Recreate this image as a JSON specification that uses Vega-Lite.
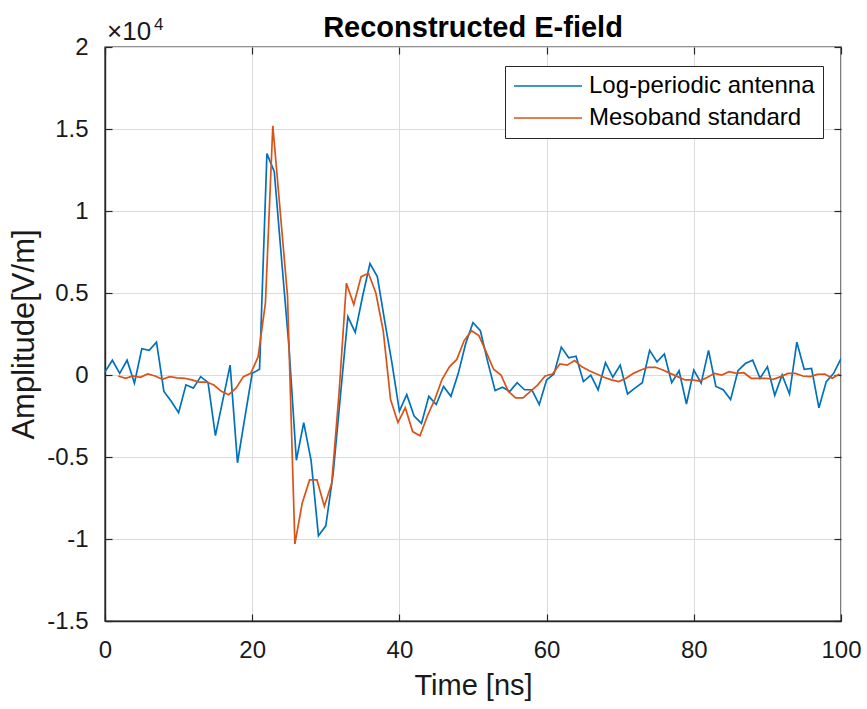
{
  "$schema": "https://vega.github.io/schema/vega-lite/v6.json",
  "width": 736,
  "height": 574,
  "autosize": {"type": "none"},
  "padding": {"left": 105, "top": 47, "right": 26, "bottom": 88},
  "background": "white",
  "title": {"text": "Reconstructed E-field", "fontSize": 29, "fontWeight": "bold", "font": "Liberation Sans", "color": "#000000", "offset": -27, "anchor": "middle"},
  "config": {
    "font": "Liberation Sans",
    "view": {"stroke": "#262626", "strokeWidth": 1.4},
    "axis": {
      "labelFont": "Liberation Sans",
      "titleFont": "Liberation Sans",
      "labelFontSize": 24,
      "titleFontWeight": "normal",
      "labelColor": "#1a1a1a",
      "titleColor": "#1a1a1a",
      "domainColor": "#262626",
      "domainWidth": 1.4,
      "tickColor": "#262626",
      "tickWidth": 1.2,
      "gridColor": "#dcdcdc",
      "gridWidth": 1
    }
  },
  "datasets": {
    "series": [
      {"t": 0, "v": 200, "s": "Log-periodic antenna"},
      {"t": 1, "v": 900, "s": "Log-periodic antenna"},
      {"t": 2, "v": 100, "s": "Log-periodic antenna"},
      {"t": 3, "v": 900, "s": "Log-periodic antenna"},
      {"t": 4, "v": -500, "s": "Log-periodic antenna"},
      {"t": 5, "v": 1600, "s": "Log-periodic antenna"},
      {"t": 6, "v": 1500, "s": "Log-periodic antenna"},
      {"t": 7, "v": 2000, "s": "Log-periodic antenna"},
      {"t": 8, "v": -1000, "s": "Log-periodic antenna"},
      {"t": 9, "v": -1600, "s": "Log-periodic antenna"},
      {"t": 10, "v": -2300, "s": "Log-periodic antenna"},
      {"t": 11, "v": -600, "s": "Log-periodic antenna"},
      {"t": 12, "v": -800, "s": "Log-periodic antenna"},
      {"t": 13, "v": -100, "s": "Log-periodic antenna"},
      {"t": 14, "v": -450, "s": "Log-periodic antenna"},
      {"t": 15, "v": -3700, "s": "Log-periodic antenna"},
      {"t": 16, "v": -1550, "s": "Log-periodic antenna"},
      {"t": 17, "v": 600, "s": "Log-periodic antenna"},
      {"t": 18, "v": -5350, "s": "Log-periodic antenna"},
      {"t": 19, "v": -2600, "s": "Log-periodic antenna"},
      {"t": 20, "v": 100, "s": "Log-periodic antenna"},
      {"t": 21, "v": 350, "s": "Log-periodic antenna"},
      {"t": 22, "v": 13500, "s": "Log-periodic antenna"},
      {"t": 23, "v": 12400, "s": "Log-periodic antenna"},
      {"t": 24, "v": 7000, "s": "Log-periodic antenna"},
      {"t": 25, "v": 1700, "s": "Log-periodic antenna"},
      {"t": 26, "v": -5200, "s": "Log-periodic antenna"},
      {"t": 27, "v": -2900, "s": "Log-periodic antenna"},
      {"t": 28, "v": -5200, "s": "Log-periodic antenna"},
      {"t": 29, "v": -9800, "s": "Log-periodic antenna"},
      {"t": 30, "v": -9200, "s": "Log-periodic antenna"},
      {"t": 31, "v": -6000, "s": "Log-periodic antenna"},
      {"t": 32, "v": -1200, "s": "Log-periodic antenna"},
      {"t": 33, "v": 3550, "s": "Log-periodic antenna"},
      {"t": 34, "v": 2600, "s": "Log-periodic antenna"},
      {"t": 35, "v": 4800, "s": "Log-periodic antenna"},
      {"t": 36, "v": 6800, "s": "Log-periodic antenna"},
      {"t": 37, "v": 6000, "s": "Log-periodic antenna"},
      {"t": 38, "v": 3300, "s": "Log-periodic antenna"},
      {"t": 39, "v": 700, "s": "Log-periodic antenna"},
      {"t": 40, "v": -2200, "s": "Log-periodic antenna"},
      {"t": 41, "v": -1200, "s": "Log-periodic antenna"},
      {"t": 42, "v": -2500, "s": "Log-periodic antenna"},
      {"t": 43, "v": -2950, "s": "Log-periodic antenna"},
      {"t": 44, "v": -1300, "s": "Log-periodic antenna"},
      {"t": 45, "v": -1800, "s": "Log-periodic antenna"},
      {"t": 46, "v": -700, "s": "Log-periodic antenna"},
      {"t": 47, "v": -1300, "s": "Log-periodic antenna"},
      {"t": 48, "v": 100, "s": "Log-periodic antenna"},
      {"t": 49, "v": 1900, "s": "Log-periodic antenna"},
      {"t": 50, "v": 3200, "s": "Log-periodic antenna"},
      {"t": 51, "v": 2700, "s": "Log-periodic antenna"},
      {"t": 52, "v": 800, "s": "Log-periodic antenna"},
      {"t": 53, "v": -950, "s": "Log-periodic antenna"},
      {"t": 54, "v": -750, "s": "Log-periodic antenna"},
      {"t": 55, "v": -1000, "s": "Log-periodic antenna"},
      {"t": 56, "v": -470, "s": "Log-periodic antenna"},
      {"t": 57, "v": -900, "s": "Log-periodic antenna"},
      {"t": 58, "v": -900, "s": "Log-periodic antenna"},
      {"t": 59, "v": -1800, "s": "Log-periodic antenna"},
      {"t": 60, "v": -300, "s": "Log-periodic antenna"},
      {"t": 61, "v": 60, "s": "Log-periodic antenna"},
      {"t": 62, "v": 1700, "s": "Log-periodic antenna"},
      {"t": 63, "v": 1050, "s": "Log-periodic antenna"},
      {"t": 64, "v": 1150, "s": "Log-periodic antenna"},
      {"t": 65, "v": -400, "s": "Log-periodic antenna"},
      {"t": 66, "v": 0, "s": "Log-periodic antenna"},
      {"t": 67, "v": -900, "s": "Log-periodic antenna"},
      {"t": 68, "v": 750, "s": "Log-periodic antenna"},
      {"t": 69, "v": -140, "s": "Log-periodic antenna"},
      {"t": 70, "v": 600, "s": "Log-periodic antenna"},
      {"t": 71, "v": -1160, "s": "Log-periodic antenna"},
      {"t": 72, "v": -800, "s": "Log-periodic antenna"},
      {"t": 73, "v": -470, "s": "Log-periodic antenna"},
      {"t": 74, "v": 1500, "s": "Log-periodic antenna"},
      {"t": 75, "v": 800, "s": "Log-periodic antenna"},
      {"t": 76, "v": 1280, "s": "Log-periodic antenna"},
      {"t": 77, "v": -470, "s": "Log-periodic antenna"},
      {"t": 78, "v": 260, "s": "Log-periodic antenna"},
      {"t": 79, "v": -1770, "s": "Log-periodic antenna"},
      {"t": 80, "v": 300, "s": "Log-periodic antenna"},
      {"t": 81, "v": -500, "s": "Log-periodic antenna"},
      {"t": 82, "v": 1500, "s": "Log-periodic antenna"},
      {"t": 83, "v": -700, "s": "Log-periodic antenna"},
      {"t": 84, "v": -900, "s": "Log-periodic antenna"},
      {"t": 85, "v": -1500, "s": "Log-periodic antenna"},
      {"t": 86, "v": 260, "s": "Log-periodic antenna"},
      {"t": 87, "v": 700, "s": "Log-periodic antenna"},
      {"t": 88, "v": 900, "s": "Log-periodic antenna"},
      {"t": 89, "v": -200, "s": "Log-periodic antenna"},
      {"t": 90, "v": 500, "s": "Log-periodic antenna"},
      {"t": 91, "v": -1240, "s": "Log-periodic antenna"},
      {"t": 92, "v": 0, "s": "Log-periodic antenna"},
      {"t": 93, "v": -1160, "s": "Log-periodic antenna"},
      {"t": 94, "v": 2000, "s": "Log-periodic antenna"},
      {"t": 95, "v": 350, "s": "Log-periodic antenna"},
      {"t": 96, "v": 400, "s": "Log-periodic antenna"},
      {"t": 97, "v": -2000, "s": "Log-periodic antenna"},
      {"t": 98, "v": -400, "s": "Log-periodic antenna"},
      {"t": 99, "v": 100, "s": "Log-periodic antenna"},
      {"t": 100, "v": 1000, "s": "Log-periodic antenna"},
      {"t": 1.8, "v": -60, "s": "Mesoband standard"},
      {"t": 2.8, "v": -200, "s": "Mesoband standard"},
      {"t": 3.8, "v": -60, "s": "Mesoband standard"},
      {"t": 4.8, "v": -140, "s": "Mesoband standard"},
      {"t": 5.8, "v": 60, "s": "Mesoband standard"},
      {"t": 6.8, "v": -60, "s": "Mesoband standard"},
      {"t": 7.8, "v": -260, "s": "Mesoband standard"},
      {"t": 8.8, "v": -100, "s": "Mesoband standard"},
      {"t": 9.8, "v": -180, "s": "Mesoband standard"},
      {"t": 10.8, "v": -200, "s": "Mesoband standard"},
      {"t": 11.8, "v": -300, "s": "Mesoband standard"},
      {"t": 12.8, "v": -430, "s": "Mesoband standard"},
      {"t": 13.8, "v": -430, "s": "Mesoband standard"},
      {"t": 14.8, "v": -610, "s": "Mesoband standard"},
      {"t": 15.8, "v": -1000, "s": "Mesoband standard"},
      {"t": 16.8, "v": -1200, "s": "Mesoband standard"},
      {"t": 17.8, "v": -800, "s": "Mesoband standard"},
      {"t": 18.8, "v": -100, "s": "Mesoband standard"},
      {"t": 19.8, "v": 100, "s": "Mesoband standard"},
      {"t": 20.8, "v": 1100, "s": "Mesoband standard"},
      {"t": 21.8, "v": 4400, "s": "Mesoband standard"},
      {"t": 22.8, "v": 15200, "s": "Mesoband standard"},
      {"t": 23.8, "v": 10000, "s": "Mesoband standard"},
      {"t": 24.8, "v": 4800, "s": "Mesoband standard"},
      {"t": 25.8, "v": -10300, "s": "Mesoband standard"},
      {"t": 26.8, "v": -7800, "s": "Mesoband standard"},
      {"t": 27.8, "v": -6400, "s": "Mesoband standard"},
      {"t": 28.8, "v": -6400, "s": "Mesoband standard"},
      {"t": 29.8, "v": -8000, "s": "Mesoband standard"},
      {"t": 30.8, "v": -6600, "s": "Mesoband standard"},
      {"t": 31.8, "v": -1100, "s": "Mesoband standard"},
      {"t": 32.8, "v": 5600, "s": "Mesoband standard"},
      {"t": 33.8, "v": 4300, "s": "Mesoband standard"},
      {"t": 34.8, "v": 6000, "s": "Mesoband standard"},
      {"t": 35.8, "v": 6200, "s": "Mesoband standard"},
      {"t": 36.8, "v": 5000, "s": "Mesoband standard"},
      {"t": 37.8, "v": 2700, "s": "Mesoband standard"},
      {"t": 38.8, "v": -1500, "s": "Mesoband standard"},
      {"t": 39.8, "v": -2900, "s": "Mesoband standard"},
      {"t": 40.8, "v": -2000, "s": "Mesoband standard"},
      {"t": 41.8, "v": -3450, "s": "Mesoband standard"},
      {"t": 42.8, "v": -3700, "s": "Mesoband standard"},
      {"t": 43.8, "v": -2500, "s": "Mesoband standard"},
      {"t": 44.8, "v": -1500, "s": "Mesoband standard"},
      {"t": 45.8, "v": -260, "s": "Mesoband standard"},
      {"t": 46.8, "v": 500, "s": "Mesoband standard"},
      {"t": 47.8, "v": 950, "s": "Mesoband standard"},
      {"t": 48.8, "v": 2100, "s": "Mesoband standard"},
      {"t": 49.8, "v": 2700, "s": "Mesoband standard"},
      {"t": 50.8, "v": 2400, "s": "Mesoband standard"},
      {"t": 51.8, "v": 1400, "s": "Mesoband standard"},
      {"t": 52.8, "v": 350, "s": "Mesoband standard"},
      {"t": 53.8, "v": 0, "s": "Mesoband standard"},
      {"t": 54.8, "v": -1000, "s": "Mesoband standard"},
      {"t": 55.8, "v": -1400, "s": "Mesoband standard"},
      {"t": 56.8, "v": -1400, "s": "Mesoband standard"},
      {"t": 57.8, "v": -1000, "s": "Mesoband standard"},
      {"t": 58.8, "v": -600, "s": "Mesoband standard"},
      {"t": 59.8, "v": -60, "s": "Mesoband standard"},
      {"t": 60.8, "v": 60, "s": "Mesoband standard"},
      {"t": 61.8, "v": 670, "s": "Mesoband standard"},
      {"t": 62.8, "v": 600, "s": "Mesoband standard"},
      {"t": 63.8, "v": 880, "s": "Mesoband standard"},
      {"t": 64.8, "v": 500, "s": "Mesoband standard"},
      {"t": 65.8, "v": 260, "s": "Mesoband standard"},
      {"t": 66.8, "v": 60, "s": "Mesoband standard"},
      {"t": 67.8, "v": -140, "s": "Mesoband standard"},
      {"t": 68.8, "v": -300, "s": "Mesoband standard"},
      {"t": 69.8, "v": -400, "s": "Mesoband standard"},
      {"t": 70.8, "v": -200, "s": "Mesoband standard"},
      {"t": 71.8, "v": 100, "s": "Mesoband standard"},
      {"t": 72.8, "v": 300, "s": "Mesoband standard"},
      {"t": 73.8, "v": 470, "s": "Mesoband standard"},
      {"t": 74.8, "v": 470, "s": "Mesoband standard"},
      {"t": 75.8, "v": 300, "s": "Mesoband standard"},
      {"t": 76.8, "v": 100, "s": "Mesoband standard"},
      {"t": 77.8, "v": -100, "s": "Mesoband standard"},
      {"t": 78.8, "v": -300, "s": "Mesoband standard"},
      {"t": 79.8, "v": -300, "s": "Mesoband standard"},
      {"t": 80.8, "v": -370, "s": "Mesoband standard"},
      {"t": 81.8, "v": -150, "s": "Mesoband standard"},
      {"t": 82.8, "v": 100, "s": "Mesoband standard"},
      {"t": 83.8, "v": 0, "s": "Mesoband standard"},
      {"t": 84.8, "v": 200, "s": "Mesoband standard"},
      {"t": 85.8, "v": 100, "s": "Mesoband standard"},
      {"t": 86.8, "v": 140, "s": "Mesoband standard"},
      {"t": 87.8, "v": -200, "s": "Mesoband standard"},
      {"t": 88.8, "v": -200, "s": "Mesoband standard"},
      {"t": 89.8, "v": -200, "s": "Mesoband standard"},
      {"t": 90.8, "v": -260, "s": "Mesoband standard"},
      {"t": 91.8, "v": -100, "s": "Mesoband standard"},
      {"t": 92.8, "v": 100, "s": "Mesoband standard"},
      {"t": 93.8, "v": 100, "s": "Mesoband standard"},
      {"t": 94.8, "v": -60, "s": "Mesoband standard"},
      {"t": 95.8, "v": -100, "s": "Mesoband standard"},
      {"t": 96.8, "v": 40, "s": "Mesoband standard"},
      {"t": 97.8, "v": 60, "s": "Mesoband standard"},
      {"t": 98.8, "v": -200, "s": "Mesoband standard"},
      {"t": 99.8, "v": 60, "s": "Mesoband standard"}
    ],
    "scale": [{"t": 0, "v": 20000, "a": "×10", "b": "4"}]
  },
  "layer": [
    {
      "data": {"name": "series"},
      "mark": {"type": "line", "strokeWidth": 1.7, "clip": true},
      "encoding": {
        "x": {
          "field": "t", "type": "quantitative",
          "scale": {"domain": [0, 100], "nice": false, "zero": false},
          "axis": {"orient": "bottom", "values": [0, 20, 40, 60, 80, 100], "title": "Time [ns]", "titleFontSize": 29, "grid": true, "tickSize": -7, "labelPadding": 24, "titlePadding": 9, "labelFlush": false}
        },
        "y": {
          "field": "v", "type": "quantitative",
          "scale": {"domain": [-15000, 20000], "nice": false, "zero": false},
          "axis": {"orient": "left", "values": [-15000, -10000, -5000, 0, 5000, 10000, 15000, 20000], "labelExpr": "'' + (datum.value / 10000)", "title": "Amplitude[V/m]", "titleFontSize": 31, "grid": true, "tickSize": -7, "labelPadding": 24, "titlePadding": 6, "labelFlush": false}
        },
        "color": {
          "field": "s", "type": "nominal",
          "scale": {"domain": ["Log-periodic antenna", "Mesoband standard"], "range": ["#0072BD", "#D95319"]},
          "legend": {
            "title": null, "orient": "none", "legendX": 400, "legendY": 19,
            "symbolType": "stroke", "symbolSize": 4624, "symbolStrokeWidth": 1.7, "clipHeight": 24,
            "labelFontSize": 24, "labelFont": "Liberation Sans", "labelColor": "#000000", "labelOffset": 6, "labelLimit": 400,
            "rowPadding": 8, "padding": 8, "fillColor": "white", "strokeColor": "#262626"
          }
        }
      }
    },
    {
      "data": {"name": "scale"},
      "mark": {"type": "text", "align": "left", "baseline": "alphabetic", "fontSize": 26, "font": "Liberation Sans", "color": "#1a1a1a", "dx": 2, "dy": -7},
      "encoding": {
        "x": {"field": "t", "type": "quantitative", "axis": {"orient": "top", "values": [0, 20, 40, 60, 80, 100], "labels": false, "title": null, "grid": false, "domain": false, "tickSize": -7}},
        "y": {"field": "v", "type": "quantitative", "axis": {"orient": "right", "values": [-15000, -10000, -5000, 0, 5000, 10000, 15000, 20000], "labels": false, "title": null, "grid": false, "domain": false, "tickSize": -7}},
        "text": {"field": "a"}
      }
    },
    {
      "data": {"name": "scale"},
      "mark": {"type": "text", "align": "left", "baseline": "alphabetic", "fontSize": 17, "font": "Liberation Sans", "color": "#1a1a1a", "dx": 49, "dy": -17},
      "encoding": {
        "x": {"field": "t", "type": "quantitative", "axis": null},
        "y": {"field": "v", "type": "quantitative", "axis": null},
        "text": {"field": "b"}
      }
    }
  ],
  "resolve": {"axis": {"x": "independent", "y": "independent"}}
}
